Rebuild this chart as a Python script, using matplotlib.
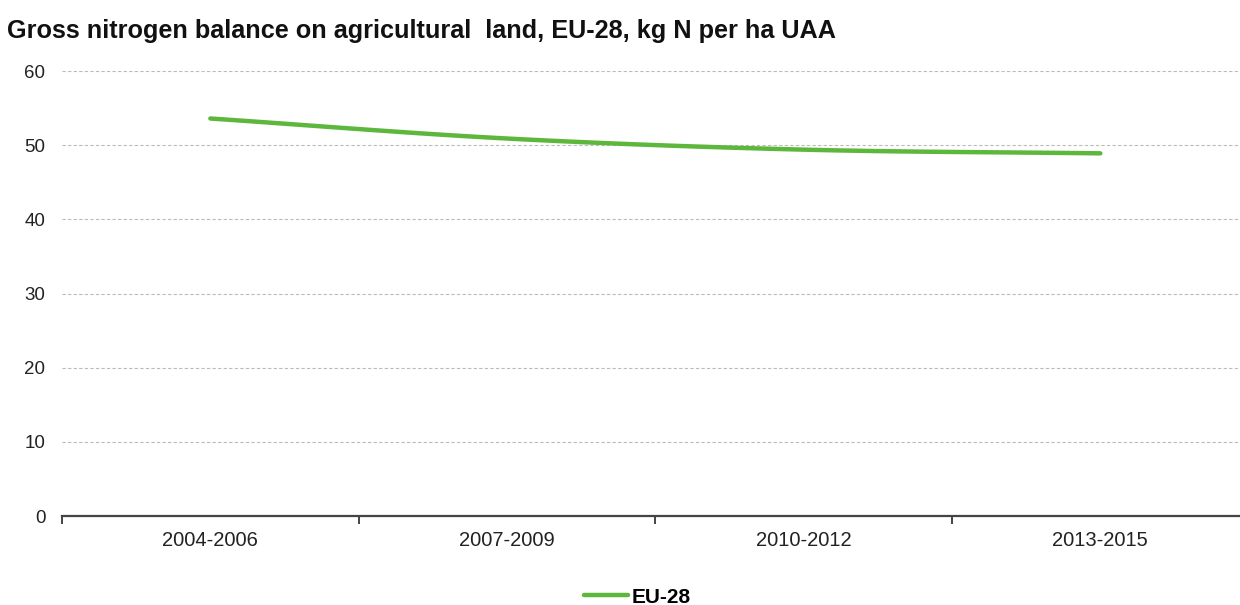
import matplotlib.pyplot as plt
import numpy as np

plt.rcParams['font.family'] = ['Liberation Sans', 'DejaVu Sans']

periods = ["2004-2006", "2007-2009", "2010-2012", "2013-2015"]
eu28 = [53.6, 50.9, 49.4, 48.9]


def smooth(x, y, n=30):
    # cubic hermite through the points, for the rounded line look
    x = np.asarray(x, float)
    y = np.asarray(y, float)
    m = np.gradient(y, x)
    xs, ys = [], []
    for i in range(len(x) - 1):
        h = x[i + 1] - x[i]
        t = np.linspace(0, 1, n)
        h00 = 2 * t**3 - 3 * t**2 + 1
        h10 = t**3 - 2 * t**2 + t
        h01 = -2 * t**3 + 3 * t**2
        h11 = t**3 - t**2
        xs.append(x[i] + t * h)
        ys.append(h00 * y[i] + h10 * h * m[i] + h01 * y[i + 1] + h11 * h * m[i + 1])
    return np.concatenate(xs), np.concatenate(ys)


fig = plt.figure(figsize=(12.4, 6.05), dpi=100)
ax = fig.add_axes([0.05, 0.1471, 0.957, 0.7355])

pos = np.arange(len(periods))
sx, sy = smooth(pos, eu28)
ax.plot(sx, sy, color="#5cb73c", lw=3.2, solid_capstyle="round", label="EU-28")

ax.set_xlim(-0.5, len(periods) - 0.5)
ax.set_ylim(0, 60)
ax.set_yticks(range(0, 61, 10))
ax.yaxis.grid(True, color="#bbbbbb", linestyle=(0, (3, 2)), lw=0.8)
ax.set_axisbelow(True)
ax.tick_params(axis="y", length=0, pad=12, labelsize=13.5, labelcolor="#222222")

ax.set_xticks(pos)
ax.set_xticklabels(periods)
ax.set_xticks(np.arange(-0.5, len(periods) - 1, 1.0), minor=True)
ax.tick_params(axis="x", which="major", length=0, pad=11, labelsize=14.5, labelcolor="#222222")
ax.tick_params(axis="x", which="minor", length=5.5, width=1.4, color="#444444", direction="out")

for s in ["left", "right", "top"]:
    ax.spines[s].set_visible(False)
ax.spines["bottom"].set_color("#444444")
ax.spines["bottom"].set_linewidth(1.6)

fig.text(0.006, 0.937, "Gross nitrogen balance on agricultural  land, EU-28, kg N per ha UAA",
         fontsize=18.2, fontweight="bold", color="#111111")

leg = fig.legend(loc="center", bbox_to_anchor=(0.514, 0.013), frameon=False,
                 handlelength=2.1, handletextpad=0.15, prop={"weight": "bold", "size": 15})

fig.savefig("out.png", dpi=100)
